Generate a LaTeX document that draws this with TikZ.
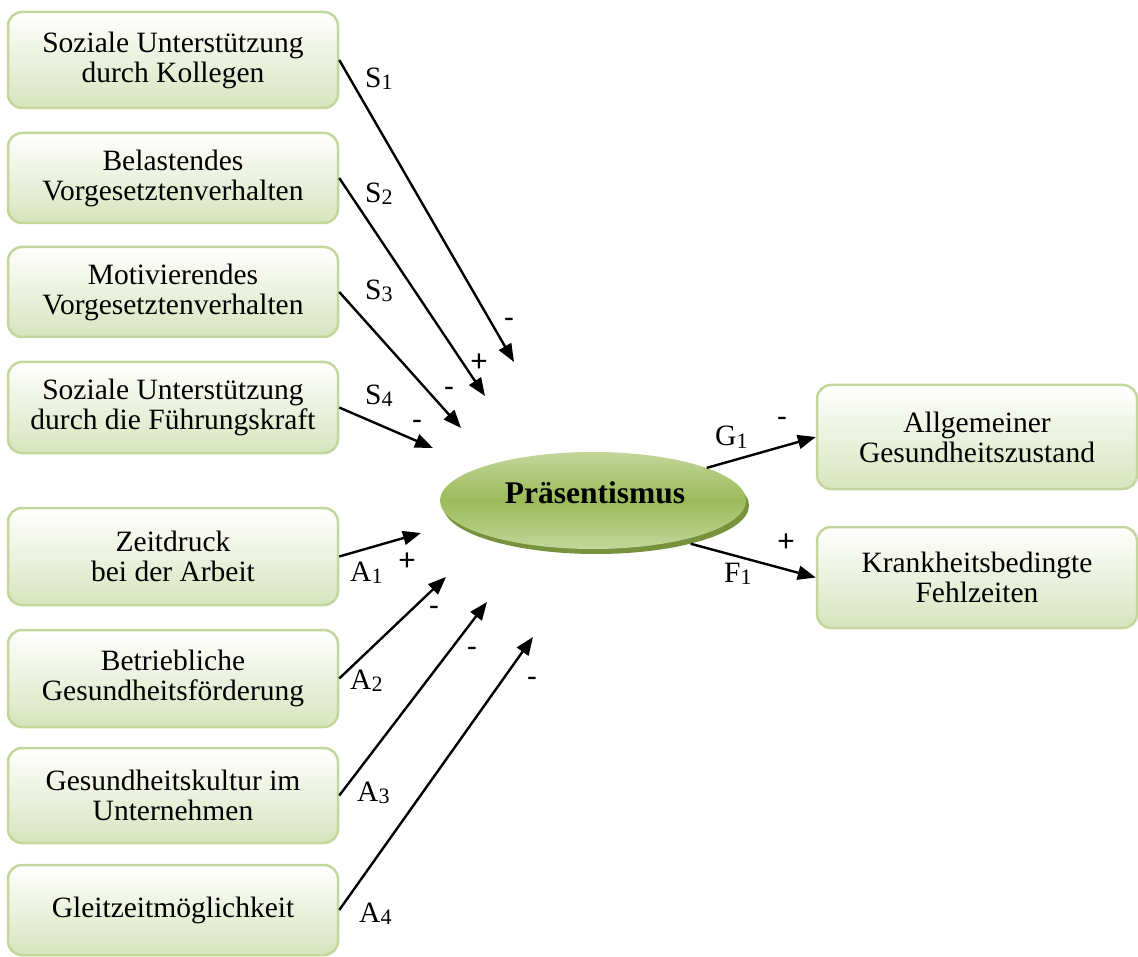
\documentclass[tikz,border=0pt]{standalone}
\usepackage{fontspec}
\setmainfont{Liberation Serif}
\newfontfamily\signfont{Carlito}
\usetikzlibrary{arrows.meta,shapes.geometric,shadows}
\definecolor{boxborder}{HTML}{C3D69B}
\definecolor{boxbot}{HTML}{D7E4BD}
\definecolor{elllight}{HTML}{C3D69B}
\definecolor{ellmid}{HTML}{9BBB59}
\definecolor{elldark}{HTML}{76923C}
\newcommand{\mysub}[1]{\raisebox{-2pt}{\fontsize{22}{22}\selectfont #1}}
\tikzset{
 factor/.style={draw=boxborder, line width=2.5pt, rounded corners=14pt, top color=white, bottom color=boxbot, minimum width=330pt, align=center, font=\fontsize{29.5}{30}\selectfont, inner sep=0pt},
 outcome/.style={factor, minimum width=320pt},
 conn/.style={line width=2.4pt, -{Triangle[length=18pt,width=14pt]}},
 lab/.style={anchor=base west, inner sep=0pt, font=\fontsize{29.5}{30}\selectfont},
 sign/.style={inner sep=0pt, font=\signfont\fontsize{32}{32}\selectfont},
}
\begin{document}
\begin{tikzpicture}[x=1pt,y=1pt]
\useasboundingbox (0,0) rectangle (1138,-957);
% left boxes
\node[factor, minimum height=96pt] (b1) at (173,-60) {Soziale Unterstützung\\durch Kollegen};
\node[factor, minimum height=90pt] (b2) at (173,-178) {Belastendes\\Vorgesetztenverhalten};
\node[factor, minimum height=90pt] (b3) at (173,-292) {Motivierendes\\Vorgesetztenverhalten};
\node[factor, minimum height=91pt] (b4) at (173,-407.5) {Soziale Unterstützung\\durch die Führungskraft};
\node[factor, minimum height=97pt] (b5) at (173,-556.5) {Zeitdruck\\bei der Arbeit};
\node[factor, minimum height=97pt] (b6) at (173,-678.5) {Betriebliche\\Gesundheitsförderung};
\node[factor, minimum height=95pt] (b7) at (173,-795.5) {Gesundheitskultur im\\Unternehmen};
\node[factor, minimum height=90pt] (b8) at (173,-910) {Gleitzeitmöglichkeit};
% right boxes
\node[outcome, minimum height=104pt] (r1) at (977,-437) {Allgemeiner\\Gesundheitszustand};
\node[outcome, minimum height=101pt] (r2) at (977,-577.5) {Krankheitsbedingte\\Fehlzeiten};
% central ellipse
\node[ellipse, minimum width=306pt, minimum height=97pt, top color=elllight, bottom color=elllight, middle color=ellmid,
      drop shadow={shadow xshift=3pt, shadow yshift=-5pt, fill=elldark, opacity=1}] (ell) at (593,-500.5) {};
\node[anchor=base, inner sep=0pt, font=\bfseries\fontsize{31.5}{32}\selectfont] (elltext) at (595,-503) {Präsentismus};
% arrow targets
\coordinate (t1) at (514,-362);
\coordinate (t2) at (485,-396);
\coordinate (t3) at (461,-428);
\coordinate (t4) at (433,-448);
\coordinate (t5) at (421,-533);
\coordinate (t6) at (446,-577);
\coordinate (t7) at (487,-602);
\coordinate (t8) at (533,-637);
% connectors
\draw[conn] (b1.east) -- (t1);
\draw[conn] (b2.east) -- (t2);
\draw[conn] (b3.east) -- (t3);
\draw[conn] (b4.east) -- (t4);
\draw[conn] (b5.east) -- (t5);
\draw[conn] (b6.east) -- (t6);
\draw[conn] (b7.east) -- (t7);
\draw[conn] (b8.east) -- (t8);
\draw[conn] (ell.16.6) -- (r1.west);
\draw[conn] ([xshift=3pt,yshift=-5pt]ell.-22) -- (r2.west);
% path labels
\node[lab] (ls1) at (365,-88) {S\mysub{1}};
\node[lab] (ls2) at (365,-203) {S\mysub{2}};
\node[lab] (ls3) at (365,-300) {S\mysub{3}};
\node[lab] (ls4) at (365,-405) {S\mysub{4}};
\node[lab] (la1) at (350,-581) {A\mysub{1}};
\node[lab] (la2) at (350,-689) {A\mysub{2}};
\node[lab] (la3) at (357,-801) {A\mysub{3}};
\node[lab] (la4) at (359,-922) {A\mysub{4}};
\node[lab] (lg1) at (715,-446) {G\mysub{1}};
\node[lab] (lf1) at (724,-582) {F\mysub{1}};
% signs
\node[sign] (ps1) at (509,-323) {-};
\node[sign] (ps2) at (479,-363) {+};
\node[sign] (ps3) at (449,-392) {-};
\node[sign] (ps4) at (417,-425) {-};
\node[sign] (pa1) at (407,-562) {+};
\node[sign] (pa2) at (434,-611) {-};
\node[sign] (pa3) at (472,-652) {-};
\node[sign] (pa4) at (532,-682) {-};
\node[sign] (pg1) at (782,-422) {-};
\node[sign] (pf1) at (786,-543) {+};
\end{tikzpicture}
\end{document}
